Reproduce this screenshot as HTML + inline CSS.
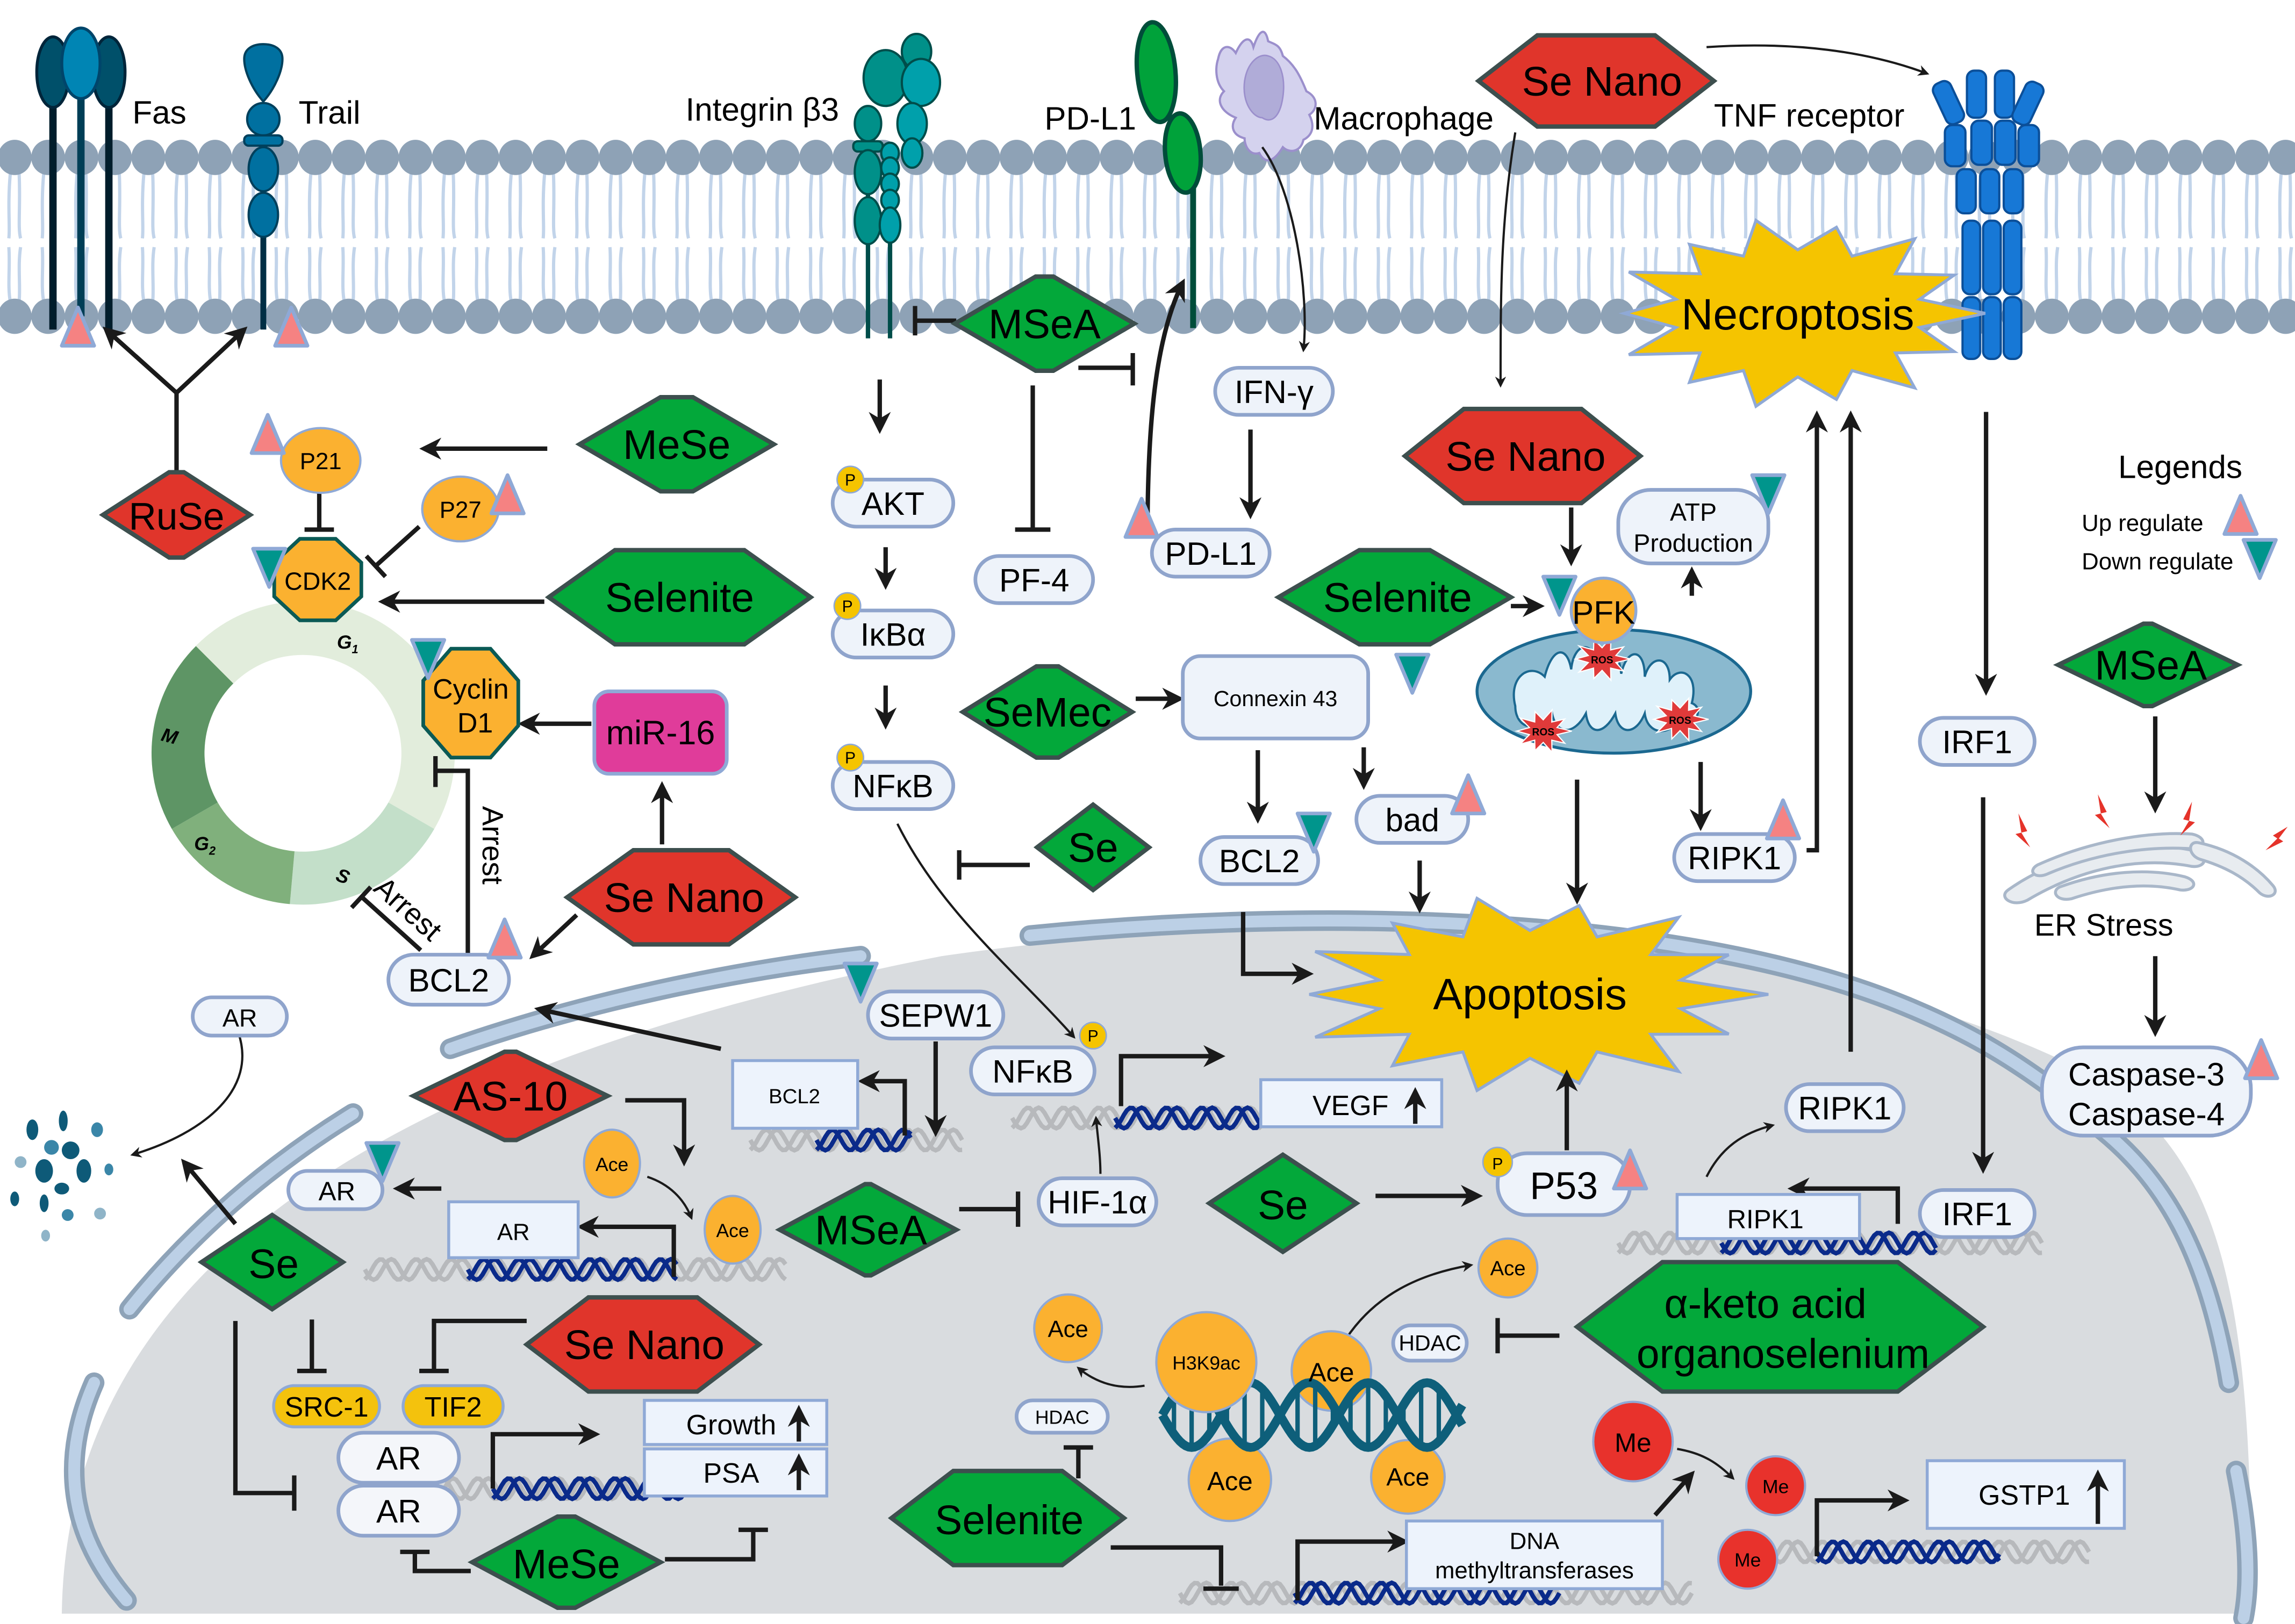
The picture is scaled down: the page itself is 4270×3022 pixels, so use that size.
<!DOCTYPE html>
<html><head><meta charset="utf-8"><style>
html,body{margin:0;padding:0;background:#fff;}
svg{display:block;}
text{font-family:"Liberation Sans",Arial,sans-serif;fill:#000;}
.lb{fill:#eef3fa;stroke:#8fa4cc;stroke-width:2.5;}
.bx{fill:#edf3fc;stroke:#8fa9d6;stroke-width:2;}
.ar{stroke:#1a1a1a;stroke-width:3;fill:none;marker-end:url(#ah);}
.ln{stroke:#1a1a1a;stroke-width:3;fill:none;}
.thin{stroke:#1a1a1a;stroke-width:1.5;fill:none;marker-end:url(#ah);}
</style></head><body>
<svg id="s" width="4270" height="3022" viewBox="0 0 1560 1104" xmlns="http://www.w3.org/2000/svg">
<defs>
<marker id="ah" viewBox="0 0 10 10" refX="8" refY="5" markerWidth="5" markerHeight="5" orient="auto"><path d="M0,0 L10,5 L0,10 L3,5 z" fill="#1a1a1a"/></marker>
</defs>
<rect width="1560" height="1104" fill="#fff"/>
<g id="mem"></g>
<!-- nucleus -->
<path d="M42,1097 C45,880 230,730 640,650 C900,612 1200,628 1400,720 C1505,770 1532,860 1530,1097 Z" fill="#d9dcdf"/>
<g id="env" fill="none" stroke-linecap="round"></g>
<g id="dna"></g>
<g id="shapes"></g>

<!-- receptors -->
<g>
<line x1="36" y1="70" x2="36" y2="224" stroke="#001d2b" stroke-width="5"/>
<line x1="74" y1="70" x2="74" y2="224" stroke="#001d2b" stroke-width="5"/>
<line x1="55" y1="65" x2="55" y2="215" stroke="#003e56" stroke-width="5"/>
<ellipse cx="36" cy="49" rx="11" ry="24" fill="#00506a" stroke="#00253a" stroke-width="2"/>
<ellipse cx="74" cy="49" rx="11" ry="24" fill="#00506a" stroke="#00253a" stroke-width="2"/>
<ellipse cx="55" cy="43" rx="13" ry="24" fill="#0085b4" stroke="#00456a" stroke-width="2"/>
<line x1="179" y1="155" x2="179" y2="224" stroke="#002e44" stroke-width="4"/>
<path d="M179,69 C171,60 166,48 166,40 C166,33 172,30 179,30 C186,30 192,33 192,40 C192,48 187,60 179,69 Z" fill="#0070a0" stroke="#00405c" stroke-width="1.5"/>
<ellipse cx="179" cy="81" rx="11" ry="11" fill="#0070a0" stroke="#00405c" stroke-width="1.5"/>
<rect x="166" y="92" width="26" height="7" rx="3" fill="#0070a0" stroke="#00405c" stroke-width="1.5"/>
<ellipse cx="179" cy="115" rx="10" ry="15" fill="#0070a0" stroke="#00405c" stroke-width="1.5"/>
<ellipse cx="179" cy="146" rx="10" ry="15" fill="#0070a0" stroke="#00405c" stroke-width="1.5"/>
</g>
<g stroke="#004d4a" stroke-width="1.5">
<line x1="590" y1="110" x2="590" y2="230" stroke-width="3"/>
<line x1="605" y1="110" x2="605" y2="230" stroke-width="3"/>
<ellipse cx="602" cy="53" rx="15" ry="19" fill="#009089"/>
<ellipse cx="623" cy="35" rx="10" ry="12" fill="#009089"/>
<ellipse cx="626" cy="56" rx="13" ry="16" fill="#00a0ab"/>
<ellipse cx="590" cy="84" rx="9" ry="12" fill="#009089"/>
<ellipse cx="620" cy="84" rx="10" ry="14" fill="#00a0ab"/>
<rect x="580" y="96" width="20" height="7" rx="3" fill="#009089"/>
<ellipse cx="590" cy="117" rx="9" ry="15" fill="#009089"/>
<ellipse cx="605" cy="104" rx="6" ry="7" fill="#00a0ab"/>
<ellipse cx="620" cy="104" rx="7" ry="10" fill="#00a0ab"/>
<ellipse cx="605" cy="114" rx="6" ry="7" fill="#00a0ab"/>
<ellipse cx="605" cy="125" rx="6" ry="7" fill="#00a0ab"/>
<ellipse cx="605" cy="136" rx="6" ry="7" fill="#00a0ab"/>
<ellipse cx="590" cy="150" rx="9" ry="16" fill="#009089"/>
<ellipse cx="605" cy="153" rx="7" ry="12" fill="#00a0ab"/>
</g>
<g>
<line x1="811" y1="115" x2="811" y2="223" stroke="#004d3a" stroke-width="4"/>
<ellipse cx="786" cy="49" rx="13" ry="34" transform="rotate(-5 786 49)" fill="#00a23a" stroke="#004d3a" stroke-width="3"/>
<ellipse cx="804" cy="104" rx="12" ry="27" transform="rotate(-5 804 104)" fill="#00a23a" stroke="#004d3a" stroke-width="3"/>
<path d="M828,40 C830,30 836,30 840,36 C845,25 850,24 852,32 C856,20 860,18 862,28 C866,30 870,30 872,38 C880,44 884,52 888,62 C896,66 896,74 890,78 C894,86 892,92 886,95 C884,104 876,104 872,100 C866,110 860,112 856,104 C850,106 846,100 846,94 C838,92 836,86 840,80 C830,76 826,68 832,62 C826,56 826,46 828,40 Z" fill="#d4d2ee" stroke="#9b8fcc" stroke-width="1.5"/>
<path d="M846,55 C848,42 856,36 862,38 C870,40 874,52 872,66 C870,80 864,84 858,80 C852,80 844,70 846,55 Z" fill="#b0acd8" stroke="#9b8fcc" stroke-width="1"/>
</g>
<g fill="#1778d6" stroke="#0b4f99" stroke-width="1.5">
<rect x="1318" y="55" width="13" height="30" rx="5" transform="rotate(-25 1324 70)"/>
<rect x="1337" y="48" width="13" height="32" rx="5"/>
<rect x="1356" y="48" width="13" height="32" rx="5"/>
<rect x="1372" y="55" width="13" height="30" rx="5" transform="rotate(25 1378 70)"/>
<rect x="1322" y="85" width="14" height="28" rx="5"/>
<rect x="1340" y="82" width="14" height="30" rx="5"/>
<rect x="1356" y="82" width="14" height="30" rx="5"/>
<rect x="1372" y="85" width="14" height="28" rx="5"/>
<rect x="1330" y="115" width="13" height="30" rx="5"/>
<rect x="1346" y="115" width="13" height="30" rx="5"/>
<rect x="1362" y="115" width="13" height="30" rx="5"/>
<rect x="1334" y="150" width="12" height="50" rx="5"/>
<rect x="1348" y="150" width="12" height="50" rx="5"/>
<rect x="1362" y="150" width="12" height="50" rx="5"/>
<rect x="1334" y="202" width="12" height="42" rx="5"/>
<rect x="1348" y="202" width="12" height="42" rx="5"/>
<rect x="1362" y="202" width="12" height="42" rx="5"/>
</g>

<!-- membrane labels -->
<g font-size="22">
<text x="90" y="84">Fas</text>
<text x="203" y="84">Trail</text>
<text x="466" y="82">Integrin β3</text>
<text x="710" y="88">PD-L1</text>
<text x="893" y="88">Macrophage</text>
<text x="1165" y="86">TNF receptor</text>
</g>

<!-- starbursts -->
<polygon id="apo" fill="#f5c400" stroke="#8fa9d6" stroke-width="2"/>
<polygon id="nec" fill="#f5c400" stroke="#8fa9d6" stroke-width="2"/>
<text x="1040" y="686" font-size="30" text-anchor="middle">Apoptosis</text>
<text x="1222" y="224" font-size="30" text-anchor="middle">Necroptosis</text>

<!-- cell cycle -->
<g id="cc"></g>
<g font-size="13" font-style="italic" font-weight="bold" fill="#222">
<text x="229" y="441">G<tspan font-size="8" dy="3">1</tspan></text>
<text x="110" y="505" transform="rotate(15 116 500)">M</text>
<text x="132" y="578">G<tspan font-size="8" dy="3">2</tspan></text>
<text x="229" y="600" transform="rotate(20 233 595)">S</text>
</g>
<text x="328" y="548" font-size="20" transform="rotate(90 328 548)">Arrest</text>
<text x="253" y="605" font-size="20" transform="rotate(42 253 605)">Arrest</text>

<!-- mitochondria -->
<g>
<ellipse cx="1097" cy="470" rx="93" ry="42" fill="#8ab9cf" stroke="#1b6890" stroke-width="2"/>
<path d="M1030,480 C1025,460 1040,450 1050,460 C1055,440 1065,438 1068,455 C1070,435 1085,435 1085,455 C1090,438 1100,438 1102,458 C1106,440 1118,440 1118,460 C1122,445 1135,445 1135,462 C1142,452 1155,458 1150,478 C1160,482 1150,498 1140,490 C1135,500 1120,500 1118,485 C1112,500 1100,500 1098,485 C1090,500 1080,500 1078,485 C1070,500 1058,500 1055,485 C1045,500 1030,495 1030,480 Z" fill="#dff1fa" stroke="#1b6890" stroke-width="1.5"/>
<polygon id="ros1" fill="#e03a3a" stroke="#fff" stroke-width="0.8"/>
<polygon id="ros2" fill="#e03a3a" stroke="#fff" stroke-width="0.8"/>
<polygon id="ros3" fill="#e03a3a" stroke="#fff" stroke-width="0.8"/>
<text x="1089" y="451" font-size="7" fill="#fff" text-anchor="middle" font-weight="bold">ROS</text>
<text x="1049" y="500" font-size="7" fill="#fff" text-anchor="middle" font-weight="bold">ROS</text>
<text x="1142" y="492" font-size="7" fill="#fff" text-anchor="middle" font-weight="bold">ROS</text>
<circle cx="1090" cy="415" r="22" fill="#fbb130" stroke="#8fa9d6" stroke-width="2"/>
<text x="1090" y="424" font-size="22" text-anchor="middle">PFK</text>
</g>

<!-- ER -->
<g fill="#e8ecf0" stroke="#a9b7c9" stroke-width="2">
<path d="M1365,605 C1400,580 1450,570 1490,578 C1502,581 1500,590 1490,589 C1455,582 1415,590 1378,612 C1368,617 1358,610 1365,605 Z"/>
<path d="M1385,588 C1420,572 1460,565 1490,567 C1500,569 1500,577 1490,577 C1460,575 1425,580 1392,594 C1383,598 1378,592 1385,588 Z"/>
<path d="M1400,603 C1430,592 1460,590 1485,596 C1495,599 1492,606 1482,605 C1460,600 1435,602 1408,611 C1398,613 1394,606 1400,603 Z"/>
<path d="M1495,573 C1518,578 1535,590 1545,602 C1550,608 1542,612 1536,607 C1525,596 1512,589 1495,584 C1487,581 1487,571 1495,573 Z"/>
</g>
<g fill="#e5332a">
<path d="M1372,553 l6,12 l-4,1 l6,10 l-10,-9 l4,-1 z"/>
<path d="M1426,540 l6,12 l-4,1 l6,10 l-10,-9 l4,-1 z"/>
<path d="M1490,545 l-6,12 l4,1 l-6,10 l10,-9 l-4,-1 z"/>
<path d="M1555,562 l-10,6 l3,2 l-8,8 l12,-6 l-3,-2 z"/>
</g>
<text x="1430" y="636" font-size="21" text-anchor="middle">ER Stress</text>

<!-- degradation particles -->
<g fill="#0e5a78">
<ellipse cx="22" cy="768" rx="4" ry="7"/><ellipse cx="43" cy="762" rx="3" ry="7"/><ellipse cx="66" cy="768" rx="4" ry="5" fill="#3a86a8"/>
<ellipse cx="35" cy="780" rx="5" ry="5" fill="#3a86a8"/><ellipse cx="48" cy="782" rx="6" ry="6"/><ellipse cx="30" cy="796" rx="6" ry="8"/>
<ellipse cx="57" cy="796" rx="5" ry="8"/><ellipse cx="42" cy="808" rx="5" ry="4"/><ellipse cx="14" cy="790" rx="4" ry="4" fill="#8fb4c8"/>
<ellipse cx="74" cy="795" rx="3" ry="4" fill="#3a86a8"/><ellipse cx="10" cy="815" rx="3" ry="5"/><ellipse cx="30" cy="818" rx="3" ry="6"/>
<ellipse cx="46" cy="826" rx="4" ry="4" fill="#3a86a8"/><ellipse cx="68" cy="825" rx="4" ry="4" fill="#8fb4c8"/><ellipse cx="31" cy="840" rx="3" ry="4" fill="#8fb4c8"/>
</g>

<!-- connectors -->
<g id="conn">
<path class="ln" d="M120,322 V267"/>
<path class="ar" d="M120,267 L72,224"/><path class="ar" d="M120,267 L166,224"/>
<path class="ar" d="M372,305 H288"/>
<path class="ar" d="M370,409 H260"/>
<path class="ar" d="M402,492 H355"/>
<path class="ar" d="M450,574 V534"/>
<path class="ar" d="M392,622 L362,650"/>
<path class="ln" d="M217,333 V360 M207,360 H227"/>
<path class="ln" d="M285,358 L255,385 M249,378 L262,392"/>
<path class="ln" d="M318,648 V524 H296 M296,514 V535"/>
<path class="ln" d="M286,646 L245,609 M239,617 L252,603"/>
<path class="ar" d="M490,713 L366,686"/>
<path class="ar" d="M636,708 V770"/>
<path class="ar" d="M615,772 V735 H586"/>
<path class="ln" d="M650,218 H622 M622,208 V228"/>
<path class="ln" d="M733,250 H770 M770,240 V262"/>
<path class="ln" d="M702,262 V360 M690,360 H714"/>
<path class="ar" d="M780,365 C780,290 785,230 804,192"/>
<path class="ar" d="M598,258 V292"/>
<path class="ar" d="M602,372 V398"/>
<path class="ar" d="M602,466 V493"/>
<path class="thin" d="M610,560 C640,620 690,660 730,705"/>
<path class="ln" d="M700,588 H652 M652,578 V598"/>
<path class="thin" d="M858,100 C880,130 890,200 886,238"/>
<path class="ar" d="M850,292 V350"/>
<path class="ar" d="M772,475 H802"/>
<path class="ar" d="M855,510 V557"/>
<path class="ar" d="M927,508 V534"/>
<path class="ar" d="M845,620 V662 H890"/>
<path class="ar" d="M965,585 V618"/>
<path class="thin" d="M1030,90 C1020,150 1020,200 1020,262"/>
<path class="thin" d="M1160,32 C1220,28 1270,35 1310,50"/>
<path class="ar" d="M1068,345 V382"/>
<path class="ar" d="M1027,412 H1047"/>
<path class="ar" d="M1150,405 V388"/>
<path class="ar" d="M1156,518 V562"/>
<path class="ar" d="M1072,530 V612"/>
<path class="ar" d="M1228,578 H1235 V282"/>
<path class="ar" d="M1258,715 V282"/>
<path class="ar" d="M1350,280 V470"/>
<path class="ar" d="M1348,542 V795"/>
<path class="ar" d="M1465,487 V550"/>
<path class="ar" d="M1465,650 V702"/>
<path class="ar" d="M1065,782 V730"/>
<path class="ar" d="M935,813 H1005"/>
<path class="ln" d="M652,822 H692 M692,810 V834"/>
<path class="thin" d="M748,798 C748,785 746,772 745,760"/>
<path class="ar" d="M762,752 V718 H830"/>
<path class="ar" d="M1290,832 V808 H1218"/>
<path class="thin" d="M1160,800 C1170,780 1185,770 1205,765"/>
<path class="ln" d="M1060,908 H1018 M1018,896 V920"/>
<path class="thin" d="M915,910 C935,880 965,866 1000,860"/>
<path class="thin" d="M778,942 C760,945 745,940 733,930"/>
<path class="ln" d="M733,1005 V984 M723,984 H743"/>
<path class="ln" d="M755,1052 H830 V1078 M818,1080 H842"/>
<path class="ar" d="M882,1088 V1048 H955"/>
<path class="ar" d="M1125,1030 L1150,1002"/>
<path class="thin" d="M1140,985 C1158,988 1168,995 1178,1005"/>
<path class="ar" d="M1235,1058 V1020 H1295"/>
<path class="ar" d="M425,748 H465 V790"/>
<path class="thin" d="M440,800 C455,805 465,815 470,828"/>
<path class="ar" d="M458,868 V834 H395"/>
<path class="ar" d="M300,808 H270"/>
<path class="ar" d="M160,832 L125,790"/>
<path class="thin" d="M162,702 C175,740 140,770 90,785"/>
<path class="ln" d="M212,897 V932 M202,932 H222"/>
<path class="ln" d="M358,898 H295 V932 M285,932 H305"/>
<path class="ln" d="M160,898 V1015 H200 M200,1003 V1027"/>
<path class="ar" stroke-width="4" d="M335,1012 V975 H405"/>
<path class="ln" d="M320,1068 H282 V1055 M272,1055 H292"/>
<path class="ln" d="M452,1060 H512 V1040 M502,1040 H522"/>
</g>

<!-- rounded labels -->
<g id="labels" font-size="22" text-anchor="middle">
<rect class="lb" x="566" y="326" width="82" height="32" rx="16"/><text x="607" y="350">AKT</text>
<rect class="lb" x="566" y="415" width="82" height="32" rx="16"/><text x="607" y="439">IκBα</text>
<rect class="lb" x="566" y="518" width="82" height="32" rx="16"/><text x="607" y="542">NFκB</text>
<rect class="lb" x="663" y="378" width="80" height="32" rx="16"/><text x="703" y="402">PF-4</text>
<rect class="lb" x="826" y="250" width="80" height="32" rx="16"/><text x="866" y="274">IFN-γ</text>
<rect class="lb" x="783" y="360" width="80" height="32" rx="16"/><text x="823" y="384">PD-L1</text>
<rect class="lb" x="804" y="446" width="126" height="56" rx="12"/><text x="867" y="480" font-size="15">Connexin 43</text>
<rect class="lb" x="816" y="569" width="80" height="32" rx="16"/><text x="856" y="593">BCL2</text>
<rect class="lb" x="922" y="541" width="76" height="32" rx="16"/><text x="960" y="565">bad</text>
<rect class="lb" x="1100" y="333" width="102" height="50" rx="22"/><text x="1151" y="354" font-size="17">ATP</text><text x="1151" y="375" font-size="17">Production</text>
<rect class="lb" x="1138" y="567" width="82" height="32" rx="16"/><text x="1179" y="591">RIPK1</text>
<rect class="lb" x="1305" y="488" width="78" height="32" rx="16"/><text x="1344" y="512">IRF1</text>
<rect class="lb" x="131" y="678" width="64" height="26" rx="13"/><text x="163" y="698" font-size="17">AR</text>
<rect class="lb" x="264" y="649" width="82" height="34" rx="17"/><text x="305" y="674">BCL2</text>
<rect class="lb" x="590" y="674" width="92" height="32" rx="16"/><text x="636" y="698">SEPW1</text>
<rect class="lb" x="660" y="712" width="84" height="32" rx="16"/><text x="702" y="736">NFκB</text>
<rect class="lb" x="706" y="801" width="80" height="32" rx="16"/><text x="746" y="825">HIF-1α</text>
<rect class="lb" x="1018" y="784" width="90" height="42" rx="20"/><text x="1063" y="815" font-size="26">P53</text>
<rect class="lb" x="1214" y="737" width="80" height="32" rx="16"/><text x="1254" y="761">RIPK1</text>
<rect class="lb" x="1305" y="809" width="78" height="32" rx="16"/><text x="1344" y="833">IRF1</text>
<rect class="lb" x="196" y="796" width="64" height="26" rx="13"/><text x="229" y="816" font-size="18">AR</text>
<rect class="lb" x="230" y="974" width="82" height="34" rx="17" style="fill:#f4f6fa"/><text x="271" y="999">AR</text>
<rect class="lb" x="230" y="1010" width="82" height="34" rx="17" style="fill:#f4f6fa"/><text x="271" y="1035">AR</text>
<rect class="lb" x="947" y="901" width="50" height="24" rx="12"/><text x="972" y="918" font-size="15">HDAC</text>
<rect class="lb" x="691" y="952" width="62" height="22" rx="11"/><text x="722" y="968" font-size="13">HDAC</text>
<rect class="lb" x="1388" y="712" width="142" height="60" rx="28"/><text x="1459" y="738">Caspase-3</text><text x="1459" y="765">Caspase-4</text>
<rect class="bx" x="498" y="721" width="85" height="46"/><text x="540" y="750" font-size="14">BCL2</text>
<rect class="bx" x="857" y="734" width="123" height="32"/><text x="918" y="758" font-size="19">VEGF</text>
<rect class="bx" x="305" y="817" width="88" height="38"/><text x="349" y="843" font-size="16">AR</text>
<rect class="bx" x="438" y="952" width="124" height="30"/><text x="497" y="975" font-size="19">Growth</text>
<rect class="bx" x="438" y="985" width="124" height="32"/><text x="497" y="1008" font-size="19">PSA</text>
<rect class="bx" x="1140" y="812" width="124" height="30"/><text x="1200" y="835" font-size="18">RIPK1</text>
<rect class="bx" x="1310" y="993" width="134" height="46"/><text x="1376" y="1023" font-size="19">GSTP1</text>
<rect class="bx" x="956" y="1034" width="174" height="46"/><text x="1043" y="1053" font-size="16">DNA</text><text x="1043" y="1073" font-size="16">methyltransferases</text>
<path class="ar" stroke-width="2.5" d="M962,764 V742"/>
<path class="ar" stroke-width="2.5" d="M543,980 V958"/>
<path class="ar" stroke-width="2.5" d="M543,1013 V991"/>
<path class="ar" stroke-width="3" d="M1426,1036 V1002"/>
<rect x="404" y="470" width="90" height="56" rx="10" fill="#e03c9a" stroke="#8fa9d6" stroke-width="2.5"/><text x="449" y="506" font-size="23">miR-16</text>
<rect x="186" y="942" width="72" height="28" rx="14" fill="#f4c20d" stroke="#8fa9d6" stroke-width="2"/><text x="222" y="963" font-size="19">SRC-1</text>
<rect x="274" y="942" width="68" height="28" rx="14" fill="#f4c20d" stroke="#8fa9d6" stroke-width="2"/><text x="308" y="963" font-size="19">TIF2</text>
</g>

<!-- orange circles -->
<g fill="#fbb130" stroke="#8fa9d6" stroke-width="1.5">
<ellipse cx="218" cy="313" rx="27" ry="22"/>
<ellipse cx="313" cy="346" rx="26" ry="22"/>
<ellipse cx="416" cy="791" rx="19" ry="23"/>
<ellipse cx="498" cy="836" rx="19" ry="23"/>
<circle cx="726" cy="903" r="23"/>
<circle cx="1025" cy="862" r="20"/>
<circle cx="905" cy="932" r="27"/>
<circle cx="836" cy="1006" r="28"/>
<circle cx="957" cy="1004" r="25"/>
</g>
<g id="dnahelix"></g>
<circle cx="820" cy="926" r="34" fill="#fbb130" stroke="#8fa9d6" stroke-width="1.5"/>
<g fill="#e8322c" stroke="#8fa9d6" stroke-width="1.5">
<circle cx="1110" cy="980" r="27"/><circle cx="1207" cy="1010" r="20"/><circle cx="1188" cy="1060" r="20"/>
</g>
<g font-size="16" text-anchor="middle">
<text x="218" y="319">P21</text><text x="313" y="352">P27</text>
<text x="416" y="796" font-size="13">Ace</text><text x="498" y="841" font-size="13">Ace</text>
<text x="726" y="909">Ace</text><text x="1025" y="867" font-size="14">Ace</text>
<text x="905" y="939" font-size="18">Ace</text><text x="836" y="1013" font-size="18">Ace</text><text x="957" y="1010" font-size="17">Ace</text>
<text x="820" y="931" font-size="13">H3K9ac</text>
<text x="1110" y="987" font-size="18">Me</text><text x="1207" y="1015" font-size="13">Me</text><text x="1188" y="1065" font-size="13">Me</text>
</g>
<polygon id="cdk" fill="#fbb130" stroke="#0b5a55" stroke-width="2.5"/>
<polygon id="cyc" fill="#fbb130" stroke="#0b5a55" stroke-width="2.5"/>
<text x="216" y="401" font-size="17" text-anchor="middle">CDK2</text>
<text x="320" y="475" font-size="19" text-anchor="middle">Cyclin</text>
<text x="323" y="498" font-size="19" text-anchor="middle">D1</text>
<g fill="#f5c400" stroke="#8fa9d6" stroke-width="1">
<circle cx="578" cy="326" r="9"/><circle cx="576" cy="412" r="9"/><circle cx="578" cy="515" r="9"/><circle cx="743" cy="704" r="9"/><circle cx="1018" cy="790" r="10"/>
</g>
<g font-size="11" text-anchor="middle"><text x="578" y="330">P</text><text x="576" y="416">P</text><text x="578" y="519">P</text><text x="743" y="708">P</text><text x="1018" y="795">P</text></g>

<g id="hex"></g>
<g font-size="28" text-anchor="middle">
<text x="710" y="230">MSeA</text>
<text x="460" y="312">MeSe</text>
<text x="462" y="416">Selenite</text>
<text x="120" y="360" font-size="26">RuSe</text>
<text x="1089" y="65">Se Nano</text>
<text x="1037" y="320">Se Nano</text>
<text x="950" y="416">Selenite</text>
<text x="712" y="494">SeMec</text>
<text x="743" y="586">Se</text>
<text x="465" y="620">Se Nano</text>
<text x="1462" y="462">MSeA</text>
<text x="347" y="755">AS-10</text>
<text x="592" y="846">MSeA</text>
<text x="872" y="829">Se</text>
<text x="186" y="869">Se</text>
<text x="438" y="924">Se Nano</text>
<text x="1200" y="896">α-keto acid</text>
<text x="1212" y="930">organoselenium</text>
<text x="686" y="1043">Selenite</text>
<text x="385" y="1073">MeSe</text>
</g>

<text x="1482" y="325" font-size="22" text-anchor="middle">Legends</text>
<text x="1415" y="361" font-size="16">Up regulate</text>
<text x="1415" y="387" font-size="16">Down regulate</text>

<g id="tri"></g>
</svg>
<script>
var NS="http://www.w3.org/2000/svg";
function el(p,t,a){var e=document.createElementNS(NS,t);for(var k in a)e.setAttribute(k,a[k]);p.appendChild(e);return e;}
var mem=document.getElementById('mem');
var s="";
for(var x=10;x<1560;x+=22.7){
 s+="M"+(x-3)+",118 C"+(x-5)+",140 "+(x-3)+",155 "+(x-4)+",162 M"+(x+3)+",118 C"+(x+4)+",140 "+(x+2)+",155 "+(x+4)+",162 ";
 s+="M"+(x-4)+",168 C"+(x-3)+",180 "+(x-5)+",195 "+(x-3)+",205 M"+(x+4)+",168 C"+(x+2)+",180 "+(x+4)+",195 "+(x+3)+",205 ";
}
el(mem,'path',{d:s,stroke:'#c2d4ea','stroke-width':2.2,fill:'none'});
for(var x=10;x<1560;x+=22.7){el(mem,'ellipse',{cx:x,cy:107,rx:11.5,ry:12,fill:'#8ea2b6'});el(mem,'ellipse',{cx:x,cy:215,rx:11.5,ry:12,fill:'#8ea2b6'});}
var env=document.getElementById('env');
var envs=[
"M700,636 C900,616 1150,622 1300,686 C1345,705 1370,722 1395,740",
"M1425,765 C1470,800 1500,850 1515,940",
"M306,713 C400,680 500,660 585,650",
"M240,757 C170,800 120,850 88,890",
"M64,940 C42,990 45,1040 86,1088",
"M1520,1000 C1528,1040 1530,1075 1525,1100"];
envs.forEach(function(d){el(env,'path',{d:d,stroke:'#8ea3b8','stroke-width':14});el(env,'path',{d:d,stroke:'#bcd0e6','stroke-width':8});});
var dna=document.getElementById('dna');
function wave(x1,x2,y,col,amp,per,ph,w){var d="";for(var x=x1;x<=x2;x+=2){var yy=y+amp*Math.sin((x-x1)/per*2*Math.PI+ph);d+=(x==x1?"M":"L")+x.toFixed(1)+","+yy.toFixed(1);}el(dna,'path',{d:d,stroke:col,'stroke-width':w||3,fill:'none'});}
function dnaSeg(x1,x2,y,col){wave(x1,x2,y,col,7,24,0,3);wave(x1,x2,y,col,7,24,Math.PI*0.6,3);}
[[510,655,775,'#0a2a8a',[555,620]],[688,860,760,'#0a2a8a',[758,858]],[248,535,863,'#0a2a8a',[318,460]],[290,440,1012,'#0a2a8a',[335,470]],
 [1100,1388,845,'#0a2a8a',[1170,1316]],[802,1150,1083,'#0a2a8a',[880,1060]],[1180,1420,1055,'#0a2a8a',[1235,1360]]].forEach(function(a){
  dnaSeg(a[0],a[1],a[2],'#b7b9bc'); dnaSeg(a[4][0],a[4][1],a[2],a[3]);});
var h=document.getElementById('dnahelix');
var hd="",hd2="";for(var x=790;x<=995;x+=2){hd+=(x==790?"M":"L")+x+","+(962+22*Math.sin((x-790)/80*2*Math.PI));hd2+=(x==790?"M":"L")+x+","+(962-22*Math.sin((x-790)/80*2*Math.PI));}
el(h,'path',{d:hd,stroke:'#0e5f7a','stroke-width':6,fill:'none'});el(h,'path',{d:hd2,stroke:'#0e5f7a','stroke-width':6,fill:'none'});
for(var x=798;x<995;x+=12){var yy=22*Math.sin((x-790)/80*2*Math.PI);el(h,'line',{x1:x,y1:962-Math.abs(yy),x2:x,y2:962+Math.abs(yy),stroke:'#0e5f7a','stroke-width':3});}
function star(id,cx,cy,rx,ry,n,inner){var p=[];for(var i=0;i<2*n;i++){var a=Math.PI*i/n;var r=i%2?inner:1;var j=(i%4==0)?1.08:1;p.push((cx+rx*r*j*Math.cos(a)).toFixed(1)+","+(cy+ry*r*j*Math.sin(a)).toFixed(1));}document.getElementById(id).setAttribute('points',p.join(' '));}
star('apo',1040,676,150,62,14,0.7);star('nec',1222,213,118,60,14,0.72);
star('ros1',1089,448,18,14,10,0.55);star('ros2',1049,497,18,14,10,0.55);star('ros3',1142,489,18,14,10,0.55);
function oct(id,cx,cy,rx,ry){var p=[];for(var i=0;i<8;i++){var a=Math.PI*(i/4)+Math.PI/8;p.push((cx+rx*Math.cos(a)).toFixed(1)+","+(cy+ry*Math.sin(a)).toFixed(1));}document.getElementById(id).setAttribute('points',p.join(' '));}
oct('cdk',216,394,32,30);oct('cyc',320,478,35,40);
var cc=document.getElementById('cc');
function arc(a1,a2,col){var cx=206,cy=512,R=103,r=67;function P(rr,a){return (cx+rr*Math.cos(a*Math.PI/180)).toFixed(1)+","+(cy+rr*Math.sin(a*Math.PI/180)).toFixed(1);}
var large=(a2-a1)>180?1:0;el(cc,'path',{d:"M"+P(R,a1)+" A"+R+","+R+" 0 "+large+" 1 "+P(R,a2)+" L"+P(r,a2)+" A"+r+","+r+" 0 "+large+" 0 "+P(r,a1)+"Z",fill:col});}
arc(-145,30,'#e2eddc');arc(-200,-145,'#e2eddc');
arc(30,95,'#c3dfc9');arc(95,150,'#80b07c');arc(150,225,'#5e9565');arc(225,240,'#e2eddc');
var hx=document.getElementById('hex');
function hex(cx,cy,w,h,d,c){var p=[[cx-w/2,cy],[cx-w/2+d,cy-h/2],[cx+w/2-d,cy-h/2],[cx+w/2,cy],[cx+w/2-d,cy+h/2],[cx-w/2+d,cy+h/2]];el(hx,'polygon',{points:p.map(function(q){return q.join(',')}).join(' '),fill:c,stroke:'#3d4f4e','stroke-width':3});}
var G='#03a83a',R='#e0352b';
[[710,220,122,64,55,G],[460,302,132,64,55,G],[462,406,178,64,45,G],[120,350,100,58,45,R],[1085,55,160,62,40,R],[1035,310,160,64,40,R],
[948,406,158,64,55,G],[712,484,115,62,50,G],[743,576,76,58,38,G],[463,610,155,64,45,R],[1460,452,122,56,58,G],[347,745,132,60,62,R],
[590,836,120,62,58,G],[872,818,100,66,50,G],[185,858,96,64,48,G],[437,914,158,64,42,R],[1210,902,276,88,58,G],[685,1032,158,64,42,G],[385,1062,128,62,58,G]]
.forEach(function(a){hex.apply(null,a);});
var tr=document.getElementById('tri');
function tri(x,y,up){var w=11,hh=26;var p=up?[[x,y-hh/2],[x+w,y+hh/2],[x-w,y+hh/2]]:[[x-w,y-hh/2],[x+w,y-hh/2],[x,y+hh/2]];
el(tr,'polygon',{points:p.map(function(q){return q.join(',')}).join(' '),fill:up?'#f58282':'#00958c',stroke:'#8fa9d6','stroke-width':2.5,'stroke-linejoin':'round'});}
[[53,222],[198,222],[182,295],[345,336],[776,352],[998,540],[1212,557],[343,638],[1108,795],[1537,720],[1523,350]].forEach(function(a){tri(a[0],a[1],true);});
[[183,386],[291,448],[1202,336],[1060,405],[960,458],[893,566],[585,668],[260,790],[1536,380]].forEach(function(a){tri(a[0],a[1],false);});
</script>
</body></html>
